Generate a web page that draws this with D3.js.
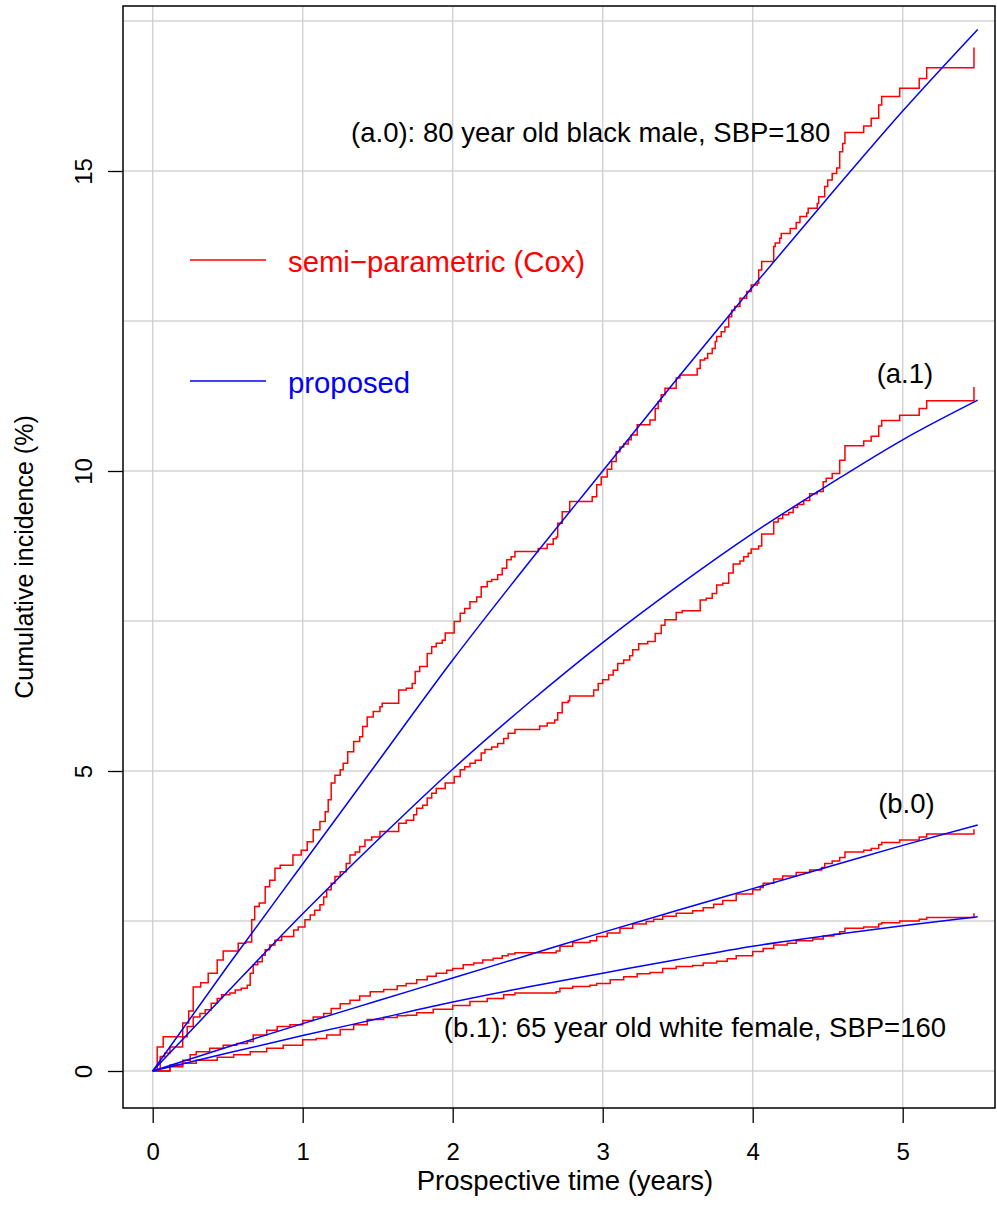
<!DOCTYPE html>
<html lang="en">
<head>
<meta charset="UTF-8">
<title>Cumulative incidence</title>
<script src="https://d3js.org/d3.v7.min.js"></script>
<style>
  body { margin: 0; background: #fff; }
  svg text { font-family: "Liberation Sans", Arial, sans-serif; }
  .grid line { stroke: #d3d3d3; stroke-width: 1.5px; }
  .axis text { font-size: 24px; fill: #000; }
  .axis line { stroke: #000; stroke-width: 1.3px; }
  .cox { fill: none; stroke: #ff0000; stroke-width: 1.5px; }
  .prop { fill: none; stroke: #0000ff; stroke-width: 1.5px; }
</style>
</head>
<body>
<script>
// ---- data ----
const xTicks = [0, 1, 2, 3, 4, 5];
const yTicks = [0, 5, 10, 15];
const yGrid = [0, 2.5, 5, 7.5, 10, 12.5, 15, 17.5];

// semi-parametric (Cox) step curves: [time, cumulative incidence %]
const coxA0 = [[0,0],[0.03,0.4],[0.07,0.57],[0.2,0.8],[0.24,1.0],[0.27,1.4],[0.32,1.47],[0.37,1.63],[0.43,1.85],[0.47,2.0],[0.57,2.13],[0.62,2.15],[0.66,2.52],[0.68,2.74],[0.71,2.8],[0.75,3.07],[0.78,3.18],[0.815,3.38],[0.85,3.43],[0.935,3.6],[0.99,3.68],[1.03,3.82],[1.07,4.02],[1.115,4.16],[1.15,4.32],[1.17,4.52],[1.19,4.8],[1.215,4.93],[1.25,5.02],[1.27,5.13],[1.3,5.32],[1.34,5.49],[1.38,5.57],[1.4,5.74],[1.43,5.9],[1.47,5.99],[1.515,6.07],[1.53,6.13],[1.64,6.35],[1.69,6.38],[1.73,6.46],[1.75,6.66],[1.78,6.74],[1.83,6.96],[1.86,7.07],[1.89,7.13],[1.93,7.18],[1.95,7.3],[2.01,7.49],[2.05,7.63],[2.08,7.71],[2.115,7.82],[2.16,7.9],[2.19,8.07],[2.23,8.16],[2.26,8.19],[2.3,8.27],[2.33,8.38],[2.36,8.52],[2.39,8.57],[2.415,8.66],[2.57,8.71],[2.63,8.78],[2.67,8.87],[2.69,8.9],[2.7,9.13],[2.73,9.32],[2.78,9.49],[2.93,9.57],[2.96,9.77],[2.99,9.9],[3.03,10.03],[3.06,10.16],[3.09,10.32],[3.115,10.4],[3.14,10.45],[3.17,10.52],[3.19,10.6],[3.23,10.77],[3.315,10.85],[3.35,11.04],[3.37,11.16],[3.39,11.27],[3.415,11.38],[3.49,11.55],[3.515,11.6],[3.63,11.71],[3.65,11.85],[3.68,11.88],[3.7,11.96],[3.73,12.04],[3.75,12.16],[3.76,12.24],[3.79,12.32],[3.815,12.4],[3.84,12.57],[3.86,12.68],[3.88,12.74],[3.915,12.88],[3.96,12.99],[3.99,13.1],[4.03,13.13],[4.04,13.35],[4.06,13.49],[4.14,13.74],[4.15,13.8],[4.18,13.88],[4.19,13.96],[4.25,14.04],[4.29,14.14],[4.315,14.24],[4.36,14.3],[4.37,14.38],[4.43,14.46],[4.44,14.57],[4.48,14.74],[4.5,14.85],[4.53,14.96],[4.56,15.05],[4.58,15.32],[4.6,15.46],[4.615,15.64],[4.74,15.75],[4.79,15.88],[4.84,16.1],[4.86,16.24],[4.98,16.38],[5.11,16.54],[5.16,16.72],[5.475,17.06]];
const coxA1 = [[0,0],[0.05,0.24],[0.08,0.3],[0.115,0.4],[0.2,0.57],[0.23,0.74],[0.27,0.9],[0.315,0.96],[0.35,1.02],[0.39,1.13],[0.43,1.21],[0.46,1.27],[0.515,1.3],[0.55,1.35],[0.59,1.38],[0.63,1.43],[0.65,1.63],[0.67,1.77],[0.7,1.82],[0.73,1.93],[0.75,2.02],[0.78,2.1],[0.815,2.18],[0.86,2.24],[0.94,2.35],[0.97,2.4],[1.015,2.52],[1.05,2.6],[1.08,2.68],[1.115,2.77],[1.14,2.9],[1.16,3.02],[1.19,3.13],[1.215,3.24],[1.25,3.32],[1.29,3.46],[1.315,3.6],[1.35,3.65],[1.38,3.74],[1.415,3.85],[1.46,3.9],[1.515,3.99],[1.64,4.13],[1.69,4.18],[1.74,4.27],[1.76,4.38],[1.8,4.43],[1.83,4.55],[1.86,4.63],[1.89,4.71],[1.95,4.8],[2.01,4.91],[2.05,5.02],[2.08,5.07],[2.115,5.13],[2.15,5.18],[2.19,5.3],[2.215,5.36],[2.26,5.4],[2.3,5.46],[2.34,5.54],[2.37,5.63],[2.415,5.69],[2.58,5.75],[2.63,5.8],[2.68,5.85],[2.7,5.97],[2.73,6.14],[2.77,6.17],[2.78,6.25],[2.94,6.35],[2.97,6.46],[3.0,6.52],[3.04,6.6],[3.07,6.68],[3.1,6.79],[3.14,6.85],[3.18,6.92],[3.2,7.02],[3.24,7.12],[3.3,7.16],[3.35,7.29],[3.39,7.43],[3.415,7.52],[3.49,7.64],[3.53,7.67],[3.65,7.85],[3.69,7.88],[3.73,7.96],[3.76,8.1],[3.8,8.13],[3.84,8.3],[3.87,8.45],[3.915,8.5],[3.94,8.57],[3.97,8.63],[3.99,8.7],[4.04,8.75],[4.06,8.95],[4.14,9.15],[4.17,9.21],[4.2,9.27],[4.24,9.31],[4.27,9.39],[4.3,9.44],[4.34,9.51],[4.38,9.62],[4.43,9.66],[4.47,9.82],[4.49,9.88],[4.53,9.96],[4.58,10.18],[4.615,10.42],[4.74,10.5],[4.79,10.58],[4.84,10.75],[4.86,10.84],[4.98,10.93],[5.11,11.04],[5.16,11.17],[5.475,11.4]];
const coxB0 = [[0,0],[0.115,0.1],[0.2,0.18],[0.25,0.27],[0.29,0.32],[0.38,0.38],[0.47,0.43],[0.56,0.46],[0.63,0.49],[0.67,0.6],[0.76,0.68],[0.83,0.74],[0.915,0.77],[1.0,0.84],[1.07,0.9],[1.14,0.96],[1.19,1.04],[1.25,1.12],[1.315,1.18],[1.38,1.25],[1.45,1.32],[1.54,1.36],[1.63,1.42],[1.69,1.46],[1.76,1.52],[1.83,1.58],[1.89,1.63],[1.96,1.68],[2.0,1.71],[2.07,1.77],[2.14,1.8],[2.2,1.85],[2.27,1.88],[2.33,1.92],[2.37,1.95],[2.415,1.97],[2.69,2.0],[2.715,2.08],[2.8,2.14],[2.915,2.17],[2.96,2.24],[3.03,2.3],[3.115,2.38],[3.2,2.45],[3.29,2.49],[3.34,2.53],[3.4,2.58],[3.49,2.63],[3.6,2.67],[3.67,2.72],[3.74,2.78],[3.8,2.84],[3.89,2.95],[4.0,3.02],[4.05,3.06],[4.07,3.13],[4.14,3.2],[4.2,3.25],[4.29,3.31],[4.38,3.35],[4.46,3.39],[4.48,3.46],[4.53,3.5],[4.58,3.56],[4.615,3.65],[4.74,3.68],[4.79,3.71],[4.84,3.77],[4.86,3.81],[4.98,3.85],[5.11,3.9],[5.16,3.95],[5.475,4.03]];
const coxB1 = [[0,0],[0.115,0.07],[0.2,0.13],[0.29,0.18],[0.43,0.23],[0.54,0.27],[0.65,0.32],[0.76,0.38],[0.87,0.43],[1.0,0.52],[1.09,0.54],[1.16,0.6],[1.25,0.69],[1.34,0.77],[1.43,0.86],[1.54,0.89],[1.63,0.92],[1.69,0.93],[1.76,0.97],[1.87,1.03],[2.0,1.09],[2.115,1.16],[2.23,1.21],[2.34,1.27],[2.415,1.3],[2.69,1.32],[2.715,1.38],[2.8,1.41],[2.915,1.43],[2.96,1.46],[3.05,1.52],[3.14,1.57],[3.23,1.62],[3.315,1.64],[3.4,1.71],[3.49,1.74],[3.6,1.76],[3.67,1.8],[3.76,1.83],[3.83,1.87],[3.89,1.92],[4.0,1.99],[4.07,2.04],[4.14,2.1],[4.23,2.13],[4.29,2.17],[4.4,2.2],[4.47,2.25],[4.54,2.28],[4.58,2.32],[4.615,2.38],[4.74,2.4],[4.84,2.45],[4.86,2.47],[4.98,2.5],[5.11,2.53],[5.16,2.56],[5.475,2.63]];

// proposed model curves on a common time grid
const propTime = [0, 0.5, 1, 1.5, 2, 2.5, 3, 3.5, 4, 4.5, 5, 5.5];
const propA0 = [0, 1.75, 3.45, 5.15, 6.85, 8.45, 10.0, 11.55, 13.07, 14.55, 16.0, 17.36];
const propA1 = [0, 1.32, 2.62, 3.85, 5.03, 6.12, 7.14, 8.08, 8.96, 9.76, 10.52, 11.18];
const propB0 = [0, 0.4, 0.79, 1.17, 1.55, 1.93, 2.31, 2.68, 3.04, 3.4, 3.76, 4.1];
const propB1 = [0, 0.3, 0.59, 0.87, 1.15, 1.4, 1.63, 1.86, 2.08, 2.26, 2.42, 2.57];

const labels = [
  {text: "(a.0): 80 year old black male, SBP=180", t: 2.92, v: 15.48},
  {text: "(a.1)", t: 5.015, v: 11.47},
  {text: "(b.0)", t: 5.025, v: 4.3},
  {text: "(b.1): 65 year old white female, SBP=160", t: 3.615, v: 0.57}
];
const legendItems = [
  {text: "semi\u2212parametric (Cox)", color: "#ff0000"},
  {text: "proposed", color: "#0000ff"}
];

// ---- layout ----
const W = 997, H = 1223;
const box = {left: 123, right: 995, top: 6, bottom: 1108};

const x = d3.scaleLinear().domain([0, 5]).range([152.7, 902.7]);
const y = d3.scaleLinear().domain([0, 15]).range([1071, 171]);

const svg = d3.select("body").append("svg")
  .attr("width", W)
  .attr("height", H);

// grid
const grid = svg.append("g").attr("class", "grid");
grid.selectAll(".gx").data(xTicks).enter().append("line")
  .attr("x1", d => x(d)).attr("x2", d => x(d))
  .attr("y1", box.top).attr("y2", box.bottom);
grid.selectAll(".gy").data(yGrid).enter().append("line")
  .attr("x1", box.left).attr("x2", box.right)
  .attr("y1", d => y(d)).attr("y2", d => y(d));

// curves
const stepLine = d3.line()
  .x(d => x(d[0]))
  .y(d => y(d[1]))
  .curve(d3.curveStepAfter);

const smoothLine = d3.line()
  .x(d => x(d[0]))
  .y(d => y(d[1]))
  .curve(d3.curveMonotoneX);

[coxA0, coxA1, coxB0, coxB1].forEach(s => {
  svg.append("path").attr("class", "cox").attr("d", stepLine(s));
});
[propA0, propA1, propB0, propB1].forEach(vals => {
  const pts = propTime.map((t, i) => [t, vals[i]]);
  svg.append("path").attr("class", "prop").attr("d", smoothLine(pts));
});

// frame
svg.append("rect")
  .attr("x", box.left).attr("y", box.top)
  .attr("width", box.right - box.left).attr("height", box.bottom - box.top)
  .attr("fill", "none").attr("stroke", "#000").attr("stroke-width", 1.5);

// axes
const xAxis = svg.append("g").attr("class", "axis")
  .attr("transform", `translate(0,${box.bottom})`)
  .call(d3.axisBottom(x).tickValues(xTicks).tickFormat(d3.format("d"))
    .tickSize(15).tickSizeOuter(0).tickPadding(20));
xAxis.select(".domain").remove();

const yAxis = svg.append("g").attr("class", "axis")
  .attr("transform", `translate(${box.left},0)`)
  .call(d3.axisLeft(y).tickValues(yTicks).tickFormat(d3.format("d"))
    .tickSize(15).tickSizeOuter(0));
yAxis.select(".domain").remove();
yAxis.selectAll("text")
  .attr("x", 0).attr("dy", null)
  .attr("text-anchor", "middle")
  .attr("transform", "translate(-31,0) rotate(-90)");

// axis titles
svg.append("text")
  .attr("x", 565).attr("y", 1190)
  .attr("text-anchor", "middle")
  .attr("font-size", 27.5)
  .text("Prospective time (years)");

svg.append("text")
  .attr("transform", `translate(33,${(box.top + box.bottom) / 2}) rotate(-90)`)
  .attr("text-anchor", "middle")
  .attr("font-size", 25)
  .text("Cumulative incidence (%)");

// curve labels
svg.selectAll(".lab").data(labels).enter().append("text")
  .attr("x", d => x(d.t))
  .attr("y", d => y(d.v))
  .attr("text-anchor", "middle")
  .attr("font-size", 27.5)
  .text(d => d.text);

// legend
const leg = svg.append("g").attr("transform", "translate(190,260)");
legendItems.forEach((d, i) => {
  const g = leg.append("g").attr("transform", `translate(0,${i * 121})`);
  g.append("line").attr("x1", 0).attr("x2", 76).attr("y1", 0).attr("y2", 0)
    .attr("stroke", d.color).attr("stroke-width", 1.5);
  g.append("text").attr("x", 98).attr("y", 12)
    .attr("font-size", 29.3).attr("fill", d.color)
    .text(d.text);
});
</script>
</body>
</html>
